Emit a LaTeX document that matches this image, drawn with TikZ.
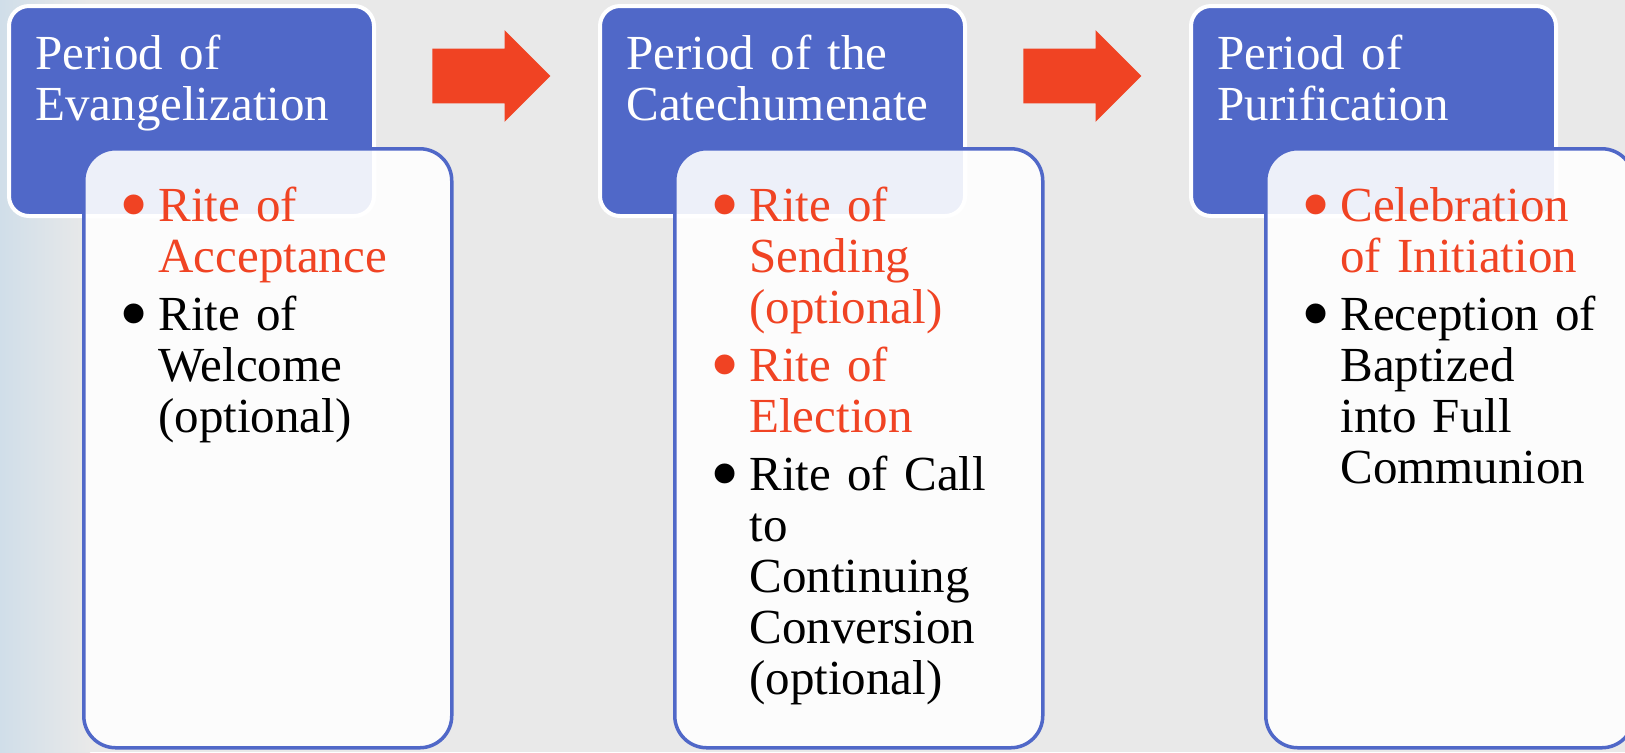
\documentclass[tikz,border=0pt]{standalone}
\usepackage{fontspec}
\setmainfont{Liberation Serif}
\usepackage{xcolor}
\usepackage{graphicx}
\usetikzlibrary{shapes.arrows}

\definecolor{slateblue}{RGB}{80,104,200}
\definecolor{ritered}{RGB}{240,67,35}
\definecolor{paper}{RGB}{233,233,233}
\definecolor{paperblue}{RGB}{208,222,233}

\newcommand{\periodfont}{\fontsize{24.5pt}{25.5pt}\selectfont}
\newcommand{\ritebullet}{\raisebox{-5.6pt}{\scalebox{1.7}{\textbullet}}}
\newcommand{\riteitem}[2]{\noindent\hangindent=18pt\hangafter=1
  \makebox[12pt][c]{\textcolor{#1}{\ritebullet}}\hspace{6pt}\textcolor{#1}{#2}\par}

\begin{document}
\begin{tikzpicture}[x=0.5pt,y=-0.5pt]
\tikzstyle{periodbox}=[rectangle, rounded corners=10pt, fill=slateblue, draw=white, line width=2pt, minimum width=182.5pt, minimum height=105pt, anchor=north west, inner sep=0pt]
\tikzstyle{ritebox}=[rectangle, rounded corners=16pt, fill=white, fill opacity=0.9, draw=slateblue, draw opacity=1, line width=1.75pt, minimum width=184pt, minimum height=299.5pt, anchor=north west, inner sep=0pt]
\tikzstyle{periodtext}=[anchor=base west, inner sep=0pt, text=white, text width=170pt, align=left, font=\periodfont]
\tikzstyle{ritetext}=[anchor=base west, inner sep=0pt, text width=160pt, align=left, font=\periodfont]
\tikzstyle{nextarrow}=[single arrow, fill=ritered, minimum height=59pt, inner xsep=0pt, inner ysep=13.5pt, single arrow head extend=9.25pt, single arrow head indent=0pt, anchor=tail]
    \useasboundingbox (0,0) rectangle (1625,752);
    \clip (0,0) rectangle (1625,752);
    \fill[paper] (0,0) rectangle (1625,752);
    \shade[left color=paperblue, right color=paper] (0,0) rectangle (90,752);

    \node (periodA) [periodbox] at (7,4) {};
    \node (periodB) [periodbox] at (598,4) {};
    \node (periodC) [periodbox] at (1189,4) {};

    \node (arrowAB) [nextarrow] at (432,76) {};
    \node (arrowBC) [nextarrow] at (1023,76) {};

    \node (riteA) [ritebox] at (82,147) {};
    \node (riteB) [ritebox] at (673,147) {};
    \node (riteC) [ritebox] at (1264,147) {};

    \node (periodAtext) [periodtext] at (35,69) {Period of\\Evangelization};
    \node (periodBtext) [periodtext] at (626,69) {Period of the\\Catechumenate};
    \node (periodCtext) [periodtext] at (1217,69) {Period of\\Purification};

    \node (riteAtext) [ritetext] at (122,221) {\setlength{\parskip}{3.5pt}%
        \riteitem{ritered}{Rite of\newline Acceptance}%
        \riteitem{black}{Rite of\newline Welcome\newline (optional)}};
    \node (riteBtext) [ritetext] at (713,221) {\setlength{\parskip}{3.5pt}%
        \riteitem{ritered}{Rite of\newline Sending\newline (optional)}%
        \riteitem{ritered}{Rite of\newline Election}%
        \riteitem{black}{Rite of Call\newline to\newline Continuing\newline Conversion\newline (optional)}};
    \node (riteCtext) [ritetext] at (1304,221) {\setlength{\parskip}{3.5pt}%
        \riteitem{ritered}{Celebration\newline of Initiation}%
        \riteitem{black}{Reception of\newline Baptized\newline into Full\newline Communion}};
\end{tikzpicture}
\end{document}
